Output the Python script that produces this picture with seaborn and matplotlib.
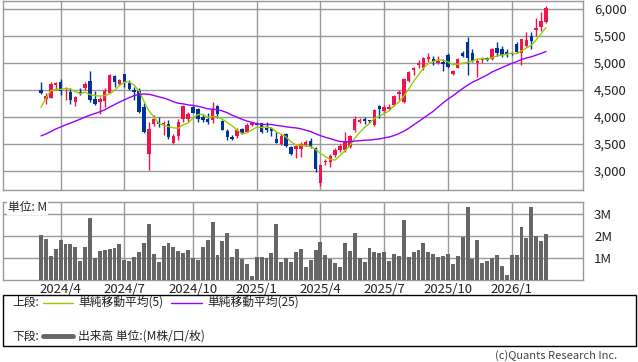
import numpy as np
import pandas as pd
import matplotlib
matplotlib.use("Agg")
import matplotlib.pyplot as plt
import seaborn as sns
from matplotlib.patches import Rectangle
from matplotlib.lines import Line2D
from matplotlib.ticker import FuncFormatter

# ---------------- data (weekly candles) ----------------
start_date = "2024-03-04"

opens = [4500, 4330, 4360, 4600, 4650, 4510, 4460, 4285, 4460, 4540,
         4665, 4330, 4280, 4295, 4450, 4765, 4615, 4795, 4635, 4500,
         4490, 4180, 3315, 3865, 3900, 3870, 3870, 3525, 3650, 3970,
         3960, 4190, 4150, 4000, 3970, 3945, 4200, 3930, 3745, 3625,
         3650, 3770, 3730, 3850, 3885, 3880, 3790, 3800, 3590, 3500,
         3690, 3440, 3400, 3400, 3480, 3555, 3420, 2785, 3160, 3160,
         3300, 3390, 3380, 3450, 3760, 3915, 3960, 3945, 3850, 4205,
         4110, 4155, 4220, 4425, 4285, 4670, 4870, 4965, 4915, 5080,
         5065, 5005, 5020, 5150, 4800, 4915, 5180, 5380, 5190, 5005,
         5055, 5090, 5070, 5270, 5255, 5200, 5190, 5345, 5180, 5320,
         5500, 5610, 5675, 5755]

highs = [4650, 4440, 4655, 4640, 4700, 4550, 4530, 4390, 4530, 4640,
         4855, 4490, 4375, 4545, 4790, 4780, 4700, 4800, 4680, 4550,
         4530, 4265, 3900, 4030, 3995, 3935, 3945, 3690, 3955, 4215,
         4100, 4200, 4170, 4050, 4070, 4285, 4230, 3950, 3775, 3670,
         3790, 3800, 3880, 3895, 3900, 3890, 3905, 3810, 3730, 3690,
         3710, 3460, 3480, 3530, 3580, 3610, 3440, 3130, 3230, 3315,
         3430, 3500, 3730, 3660, 4020, 3975, 4005, 3950, 4140, 4220,
         4220, 4235, 4410, 4500, 4715, 4860, 4920, 5055, 5105, 5190,
         5130, 5130, 5070, 5180, 4870, 5090, 5230, 5490, 5250, 5070,
         5110, 5120, 5270, 5385, 5320, 5250, 5210, 5380, 5450, 5580,
         5580, 5830, 5950, 6060]

lows = [4420, 4235, 4350, 4500, 4400, 4320, 4240, 4205, 4400, 4500,
        4285, 4215, 4060, 4190, 4440, 4550, 4600, 4550, 4500, 4320,
        4070, 3700, 3020, 3830, 3810, 3670, 3590, 3500, 3575, 3910,
        3910, 4070, 3915, 3910, 3870, 3885, 3990, 3750, 3575, 3565,
        3605, 3680, 3720, 3840, 3850, 3700, 3730, 3640, 3510, 3480,
        3450, 3300, 3245, 3260, 3470, 3430, 2990, 2720, 3110, 3080,
        3260, 3360, 3360, 3420, 3730, 3885, 3870, 3885, 3835, 3975,
        4080, 4130, 4205, 4320, 4265, 4655, 4780, 4900, 4870, 5025,
        4960, 4990, 4860, 4900, 4780, 4900, 5105, 4780, 5020, 4745,
        5000, 5030, 5050, 5130, 5110, 5120, 5150, 5180, 4965, 5300,
        5255, 5500, 5590, 5735]

closes = [4450, 4390, 4610, 4625, 4480, 4540, 4320, 4375, 4440, 4610,
          4320, 4240, 4325, 4485, 4775, 4640, 4680, 4640, 4515, 4470,
          4100, 3720, 3775, 3960, 3875, 3890, 3625, 3650, 3910, 4205,
          4055, 4080, 3970, 3945, 3905, 4140, 4050, 3760, 3625, 3600,
          3760, 3700, 3850, 3885, 3860, 3730, 3760, 3745, 3525, 3650,
          3465, 3315, 3465, 3495, 3545, 3450, 3040, 3110, 3185, 3285,
          3390, 3470, 3560, 3650, 3955, 3945, 3925, 3920, 4130, 4155,
          4180, 4190, 4390, 4470, 4700, 4840, 4900, 4995, 5100, 5115,
          5030, 5045, 4980, 4930, 4860, 5070, 5130, 5090, 5040, 5045,
          5100, 5060, 5255, 5180, 5150, 5160, 5165, 5200, 5440, 5425,
          5415, 5650, 5780, 6010]

# weekly volume in millions of shares
volumes = [2.05, 1.88, 1.09, 1.42, 1.83, 1.64, 1.64, 1.50, 0.88, 1.50,
           2.83, 1.00, 1.32, 1.36, 1.42, 1.45, 1.64, 0.92, 0.86, 1.05,
           1.27, 1.68, 2.55, 1.18, 0.82, 1.55, 1.68, 1.50, 1.32, 1.23,
           1.36, 1.02, 0.91, 1.52, 1.83, 2.65, 1.14, 1.77, 2.14, 1.05,
           1.41, 0.95, 0.73, 0.18, 1.05, 1.05, 0.98, 1.23, 2.55, 0.82,
           1.00, 0.82, 1.27, 1.41, 0.59, 0.91, 1.36, 1.73, 1.14, 0.95,
           0.77, 0.59, 1.68, 1.32, 2.14, 1.00, 0.82, 1.45, 1.27, 1.23,
           1.27, 0.86, 1.18, 1.09, 2.73, 1.05, 1.27, 1.36, 1.68, 1.27,
           1.18, 1.05, 1.09, 1.18, 0.73, 1.09, 1.95, 3.32, 0.95, 1.82,
           0.77, 0.86, 1.00, 1.14, 0.64, 0.23, 1.14, 1.14, 2.41, 1.91,
           3.32, 2.00, 1.77, 2.09]

# estimated closes of the 24 weeks before the window (only feed the moving averages)
prior_closes = [3480, 3520, 3450, 3530, 3570, 3490, 3460, 3540, 3580, 3510,
                3470, 3530, 3560, 3500, 3480, 3540, 3590, 3520, 3500, 3530,
                3560, 3905, 4495, 4490]

price_ticks = [3000, 3500, 4000, 4500, 5000, 5500, 6000]
vol_ticks = [1, 2, 3]
vol_tick_labels = ["1M", "2M", "3M"]

legend_top = "上段:"
legend_bottom = "下段:"
ma5_label = "単純移動平均(5)"
ma25_label = "単純移動平均(25)"
vol_label = "出来高 単位:(M株/口/枚)"
unit_label = "単位: M"
credit = "(c)Quants Research Inc."

# ---------------- styling ----------------
sns.set_theme(style="white")
plt.rcParams["font.family"] = ["Noto Sans CJK JP", "DejaVu Sans"]

RED = "#F0144B"
BLUE = "#003399"
GREEN = "#99CC00"
PURPLE = "#9900FF"
GRID = "#999999"
VOLC = "#666666"
TXT = "#222222"

dates = pd.date_range(start_date, periods=len(closes), freq="W-MON")
df = pd.DataFrame({"date": dates, "open": opens, "high": highs, "low": lows,
                   "close": closes, "volume": volumes})
df["i"] = np.arange(len(df))
allc = pd.Series(prior_closes + closes, dtype=float)
n0 = len(prior_closes)
df["ma5"] = allc.rolling(5).mean().iloc[n0:].to_numpy()
df["ma25"] = allc.rolling(25).mean().iloc[n0:].to_numpy()

# month ticks: first week of Jan/Apr/Jul/Oct
ym = df["date"].dt.year * 100 + df["date"].dt.month
first = ym != ym.shift(1)
sel = first & df["date"].dt.month.isin([1, 4, 7, 10]) & (df.index > 0)
tick_idx = df.loc[sel, "i"].tolist()
tick_lab = [f"{d.year}/{d.month}" for d in df.loc[sel, "date"]]

W, H = 638, 362
fig = plt.figure(figsize=(W / 100, H / 100), dpi=100)
fig.patch.set_facecolor("white")


def rect(l, t, r, b):
    return [l / W, 1 - b / H, (r - l) / W, (b - t) / H]


ax = fig.add_axes(rect(3, 1, 583, 190))
axv = fig.add_axes(rect(3, 202, 583, 280))

XL = (-7.75, 110.55)

# ---- candles ----
up = df["close"] >= df["open"]
cols = np.where(up, RED, BLUE)
ax.vlines(df["i"], df["low"], df["high"], colors=cols, lw=1, zorder=3)
body_lo = np.minimum(df["open"], df["close"])
body_h = np.maximum(np.abs(df["close"] - df["open"]), 14)
ax.bar(df["i"], body_h, bottom=body_lo, width=0.7, color=cols, lw=0, zorder=4)

sns.lineplot(data=df, x="i", y="ma5", ax=ax, color=GREEN, lw=1.0, zorder=5)
sns.lineplot(data=df, x="i", y="ma25", ax=ax, color=PURPLE, lw=1.0, zorder=5)

ax.set_xlim(*XL)
ax.set_ylim(2648, 6148)
ax.set_xticks(tick_idx)
ax.set_xticklabels([])
ax.set_yticks(price_ticks)
ax.yaxis.set_major_formatter(FuncFormatter(lambda v, p: f"{int(v):,}"))
ax.yaxis.tick_right()
ax.tick_params(axis="y", length=0, pad=8, labelsize=9.5, labelcolor=TXT)
ax.tick_params(axis="x", length=0)
ax.grid(True, color=GRID, lw=1)
ax.set_axisbelow(True)
ax.set_xlabel("")
ax.set_ylabel("")
for s in ax.spines.values():
    s.set_color(GRID)
    s.set_linewidth(1)

# ---- volume ----
sns.barplot(data=df, x="i", y="volume", ax=axv, native_scale=True, color=VOLC,
            saturation=1, width=0.8, errorbar=None, linewidth=0, zorder=3)
axv.set_xlim(*XL)
axv.set_ylim(0, 3.55)
axv.set_yticks(vol_ticks)
axv.set_yticklabels(vol_tick_labels)
axv.yaxis.tick_right()
axv.tick_params(axis="y", length=0, pad=8, labelsize=9.5, labelcolor=TXT)
axv.set_xticks(tick_idx)
axv.set_xticklabels(tick_lab)
axv.tick_params(axis="x", length=0, pad=2, labelsize=9.5, labelcolor=TXT)
axv.grid(True, color=GRID, lw=1)
axv.set_axisbelow(True)
axv.set_xlabel("")
axv.set_ylabel("")
for s in axv.spines.values():
    s.set_color(GRID)
    s.set_linewidth(1)
axv.text(0.008, 0.93, unit_label, transform=axv.transAxes, ha="left", va="center",
         fontsize=8.5, color=TXT, zorder=6,
         bbox=dict(facecolor="white", edgecolor="none", pad=0.8))

# ---- legend box ----
fig.add_artist(Rectangle((3 / W, 1 - 346 / H), (636 - 3) / W, (346 - 295) / H,
                         transform=fig.transFigure, fill=False, ec="black", lw=1))
y1 = 1 - 302.5 / H
y2 = 1 - 336 / H
fig.text(12 / W, y1, legend_top, ha="left", va="center", fontsize=8.5, color=TXT)
fig.add_artist(Line2D([43 / W, 73 / W], [y1, y1], color=GREEN, lw=1, transform=fig.transFigure))
fig.text(78 / W, y1, ma5_label, ha="left", va="center", fontsize=8.5, color=TXT)
fig.add_artist(Line2D([171 / W, 202 / W], [y1, y1], color=PURPLE, lw=1, transform=fig.transFigure))
fig.text(207 / W, y1, ma25_label, ha="left", va="center", fontsize=8.5, color=TXT)
fig.text(12 / W, y2, legend_bottom, ha="left", va="center", fontsize=8.5, color=TXT)
fig.add_artist(Line2D([43 / W, 73 / W], [y2, y2], color=VOLC, lw=3.5, transform=fig.transFigure))
fig.text(78 / W, y2, vol_label, ha="left", va="center", fontsize=8.5, color=TXT)

fig.text(617 / W, 1 - 356 / H, credit, ha="right", va="center", fontsize=8, color="#444444")

fig.savefig("out.png", dpi=100, facecolor="white")
